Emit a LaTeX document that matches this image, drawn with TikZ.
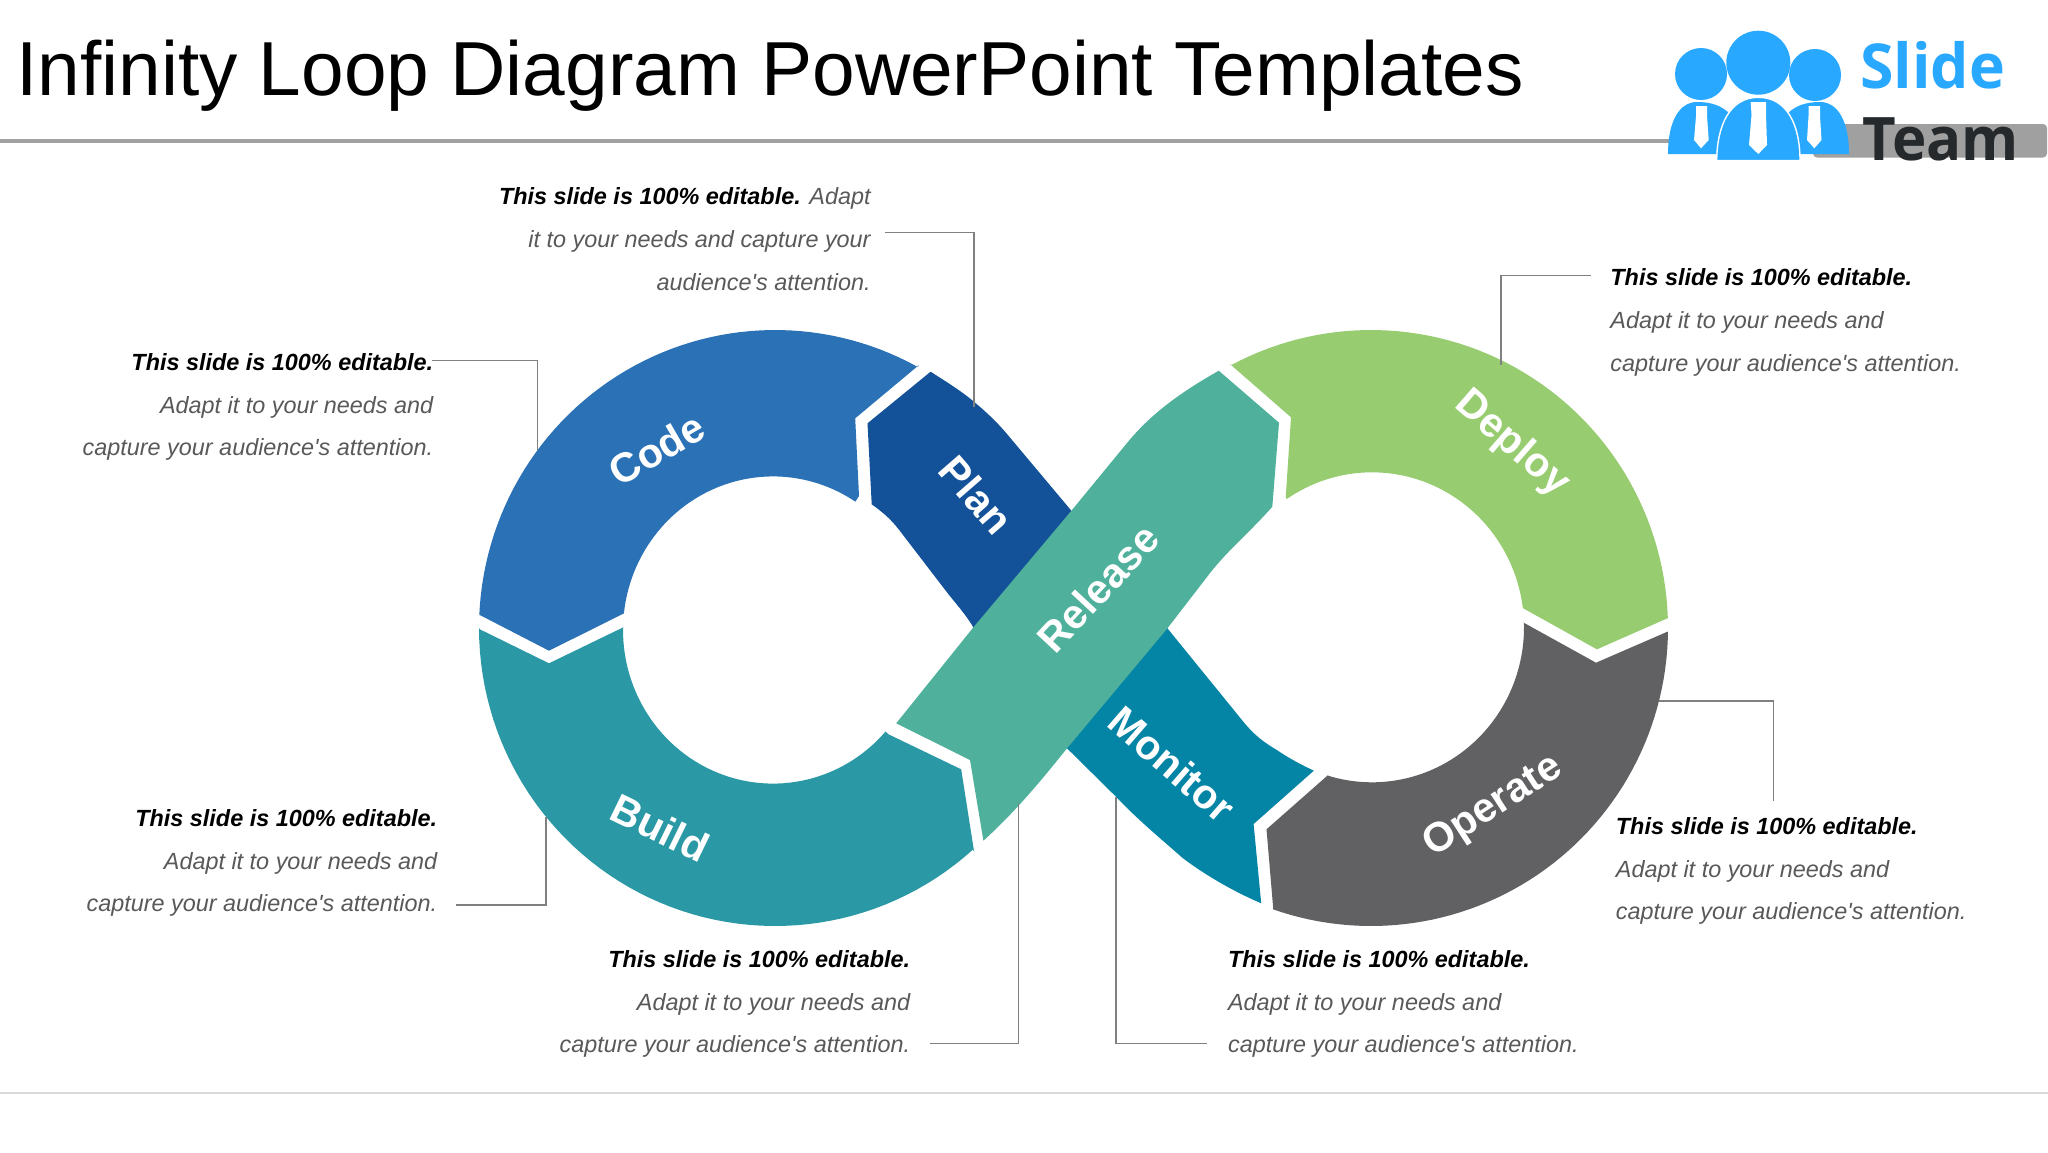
\documentclass[tikz,border=0pt]{standalone}
\usepackage{fontspec}
\setmainfont{Liberation Sans}
\newfontfamily\bodyfont{Liberation Sans}
\newfontfamily\logofont{Open Sans}
\definecolor{cCode}{HTML}{2A71B5}
\definecolor{cPlan}{HTML}{135299}
\definecolor{cBuild}{HTML}{2B99A5}
\definecolor{cRelease}{HTML}{4FB19B}
\definecolor{cDeploy}{HTML}{97CC70}
\definecolor{cOperate}{HTML}{616063}
\definecolor{cMonitor}{HTML}{0585A6}
\definecolor{cLogo}{HTML}{29A8FF}
\definecolor{cBar}{HTML}{A0A0A0}
\definecolor{cLead}{HTML}{808080}
\definecolor{cBody}{HTML}{595959}
\definecolor{cTeam}{HTML}{26292C}
\newcommand{\hd}[1]{{\bfseries\color{black}#1}}
\tikzset{
  rng/.style 2 args={domain=#1:#2,samples=60,variable=\t},
  seglabel/.style={text=white,font=\fontsize{20.6}{24}\selectfont\bfseries,inner sep=0pt},
  blockR/.style={anchor=north east,align=right,inner sep=0pt,text=cBody,font=\bodyfont\fontsize{11.7}{21.35}\selectfont\itshape},
  blockL/.style={anchor=north west,align=left,inner sep=0pt,text=cBody,font=\bodyfont\fontsize{11.7}{21.35}\selectfont\itshape},
  leader/.style={draw=cLead,line width=0.65pt},
  tie/.style={fill=white},
  person/.style={fill=cLogo},
}
\begin{document}
\begin{tikzpicture}[x=0.5pt,y=-0.5pt]
\useasboundingbox (0,0) rectangle (2048,1152);
\fill[white] (0,0) rectangle (2048,1152);

% title and rules
\node[anchor=base west,inner sep=0pt,font=\fontsize{38.3}{44}\selectfont] (title) at (16,95) {Infinity Loop Diagram PowerPoint Templates};
\draw[cBar,line width=2pt] (0,141) -- (1810,141);
\draw[black!15,line width=0.6pt] (0,1093) -- (2048,1093);

% logo
\fill[cBar,rounded corners=2pt] (1813,124) rectangle (2047,157.5);
\path[person] (1701,74) circle[radius=26];
\path[person] (1815,75) circle[radius=26];
\path[person] (1758.3,62.7) circle[radius=32];
\path[person] (1668,154) .. controls (1668,120) and (1680,102) .. (1697,102) .. controls (1712,102) and (1722,106) .. (1730,114) -- (1730,154) -- cycle;
\path[person] (1849,154) .. controls (1849,120) and (1837,102) .. (1820,102) .. controls (1805,102) and (1795,106) .. (1787,114) -- (1787,154) -- cycle;
\path[person,draw=white,line width=0.7pt] (1716.7,160.5) .. controls (1717,125) and (1730,97.3) .. (1758.3,97.3) .. controls (1787,97.3) and (1800,125) .. (1800,160.5) -- cycle;
\path[tie] (1750.7,102) -- (1766,102) -- (1766,115) -- (1767,145) -- (1758.3,154) -- (1749,145) -- (1751.5,115) -- cycle;
\path[tie] (1696,106) -- (1707,106) -- (1707,116) -- (1708.7,140) -- (1701,148.3) -- (1694,140) -- (1696,116) -- cycle;
\path[tie] (1808.5,106) -- (1820,106) -- (1820,116) -- (1821.5,140) -- (1814.3,148.3) -- (1807,140) -- (1808.5,116) -- cycle;
\node[anchor=base west,inner sep=0pt,text=cLogo,xscale=0.98,font=\fontsize{31}{36}\selectfont\logofont\bfseries] (slide) at (1860,88) {Slide};
\node[anchor=base west,inner sep=0pt,text=cTeam,xscale=0.97,font=\fontsize{30}{36}\selectfont\logofont\bfseries] (team) at (1862,160) {Team};

% loop segments
\fill[cPlan] (867.5,423.3) -- (930.6,371.7) .. controls (945,381) and (960,390) .. (973.9,401.7) .. controls (985,411) and (996,421) .. (1006.4,433.3) -- (1085,527) -- (985,640) -- (973.9,628.3) .. controls (965,613) and (955,603) .. (945.2,590) -- (899.2,530) .. controls (890,518) and (881,511) .. (871.7,504.3) -- cycle;
\fill[cMonitor] (1150,600) -- (1167.4,628.3) -- (1243.3,721.7) .. controls (1255,736) and (1265,743) .. (1276.8,750) .. controls (1290,759) and (1302,765) .. (1313.8,770.7) -- (1253.6,824) -- (1261.2,903.3) .. controls (1235,892) and (1208,877) .. (1183,858.3) .. controls (1160,838) and (1138,820) .. (1116,796.7) -- (1067,748.3) -- (1040,720) -- cycle;
\fill[cCode] (479.8,615) -- plot[rng={182.5}{298.8}] ({775+296*cos(\t)},{628+298*sin(\t)}) -- (919,365) -- (855.2,418.3) -- (859,496) -- plot[rng={303.3}{186.2}] ({773+150*cos(\t)},{630+153.6*sin(\t)}) -- (624,613.3) -- (549,650.7) -- cycle;
\fill[cBuild] (479.8,629.3) -- (549,663.3) -- (623.3,627.3) -- plot[rng={180}{41.4}] ({773+150*cos(\t)},{630+153.6*sin(\t)}) -- (888.5,734.3) -- (961.2,769.3) -- (974.2,852.3) -- plot[rng={48}{180}] ({775+296*cos(\t)},{628+298*sin(\t)}) -- cycle;
\fill[cRelease] (1218.75,370.7) -- (1279,422.7) -- (1272.3,506.7) .. controls (1250,532) and (1228,550) .. (1209.8,573.3) -- (1167.4,628.3) -- (1067,748.3) .. controls (1040,782) and (1015,812) .. (983.4,840.7) -- (970,760) -- (896.2,723.3) -- (973.9,626.7) -- (1071.4,510.7) -- (1129.5,440) .. controls (1155,410) and (1185,390) .. (1218.75,370.7) -- cycle;
\fill[cDeploy] (1229.9,364) -- plot[rng={241.8}{358.1}] ({1371+297*cos(\t)},{628+298*sin(\t)}) -- (1667.4,618.3) -- (1596.9,649.3) -- (1523.2,608.3) -- plot[rng={353}{235.9}] ({1372+152*cos(\t)},{627.3+155*sin(\t)}) -- (1285.7,497.3) -- (1291,417.3) -- cycle;
\fill[cOperate] (1667.4,631.7) -- plot[rng={0.7}{109.3}] ({1371+297*cos(\t)},{628+298*sin(\t)}) -- (1273.2,908.3) -- (1266.5,829.3) -- (1328.1,775) -- plot[rng={107}{-2}] ({1372+152*cos(\t)},{627.3+155*sin(\t)}) -- (1523.7,622.7) -- (1596,662.7) -- cycle;

% segment labels
\node[seglabel,rotate=30] (code) at (656.5,449) {Code};
\node[seglabel,rotate=-49] (plan) at (976.5,495) {Plan};
\node[seglabel,rotate=-26] (build) at (660,828) {Build};
\node[seglabel,rotate=47] (release) at (1098,588) {Release};
\node[seglabel,rotate=-41] (monitor) at (1172,764) {Monitor};
\node[seglabel,rotate=33] (operate) at (1493.5,807) {Operate};
\node[seglabel,rotate=-41] (deploy) at (1512,444) {Deploy};

% text blocks
\node[blockR] (tPlan) at (871,187.5) {\hd{This slide is 100\% editable.} Adapt\\it to your needs and capture your\\audience's attention.};
\node[blockR] (tCode) at (433.6,353) {\hd{This slide is 100\% editable.}\\Adapt it to your needs and\\capture your audience's attention.};
\node[blockR] (tBuild) at (437.5,809) {\hd{This slide is 100\% editable.}\\Adapt it to your needs and\\capture your audience's attention.};
\node[blockR] (tRelease) at (910.5,950) {\hd{This slide is 100\% editable.}\\Adapt it to your needs and\\capture your audience's attention.};
\node[blockL] (tMonitor) at (1227.7,950) {\hd{This slide is 100\% editable.}\\Adapt it to your needs and\\capture your audience's attention.};
\node[blockL] (tOperate) at (1615.5,817) {\hd{This slide is 100\% editable.}\\Adapt it to your needs and\\capture your audience's attention.};
\node[blockL] (tDeploy) at (1610,268.5) {\hd{This slide is 100\% editable.}\\Adapt it to your needs and\\capture your audience's attention.};

% leader ends
\coordinate (aPlan) at (885.4,232.5);
\coordinate (bPlan) at (973.9,406.7);
\coordinate (aCode) at (432,360.7);
\coordinate (bCode) at (537.6,450);
\coordinate (aBuild) at (456,905);
\coordinate (bBuild) at (546,816.7);
\coordinate (aRelease) at (930,1043.5);
\coordinate (bRelease) at (1018.7,803.3);
\coordinate (aMonitor) at (1206.8,1043.5);
\coordinate (bMonitor) at (1116,796.7);
\coordinate (aOperate) at (1659,701);
\coordinate (bOperate) at (1773.5,800.6);
\coordinate (aDeploy) at (1591,275.6);
\coordinate (bDeploy) at (1500.9,365);
\draw[leader] (aPlan) -| (bPlan);
\draw[leader] (aCode) -| (bCode);
\draw[leader] (aBuild) -| (bBuild);
\draw[leader] (aRelease) -| (bRelease);
\draw[leader] (aMonitor) -| (bMonitor);
\draw[leader] (aOperate) -| (bOperate);
\draw[leader] (aDeploy) -| (bDeploy);
\end{tikzpicture}
\end{document}
